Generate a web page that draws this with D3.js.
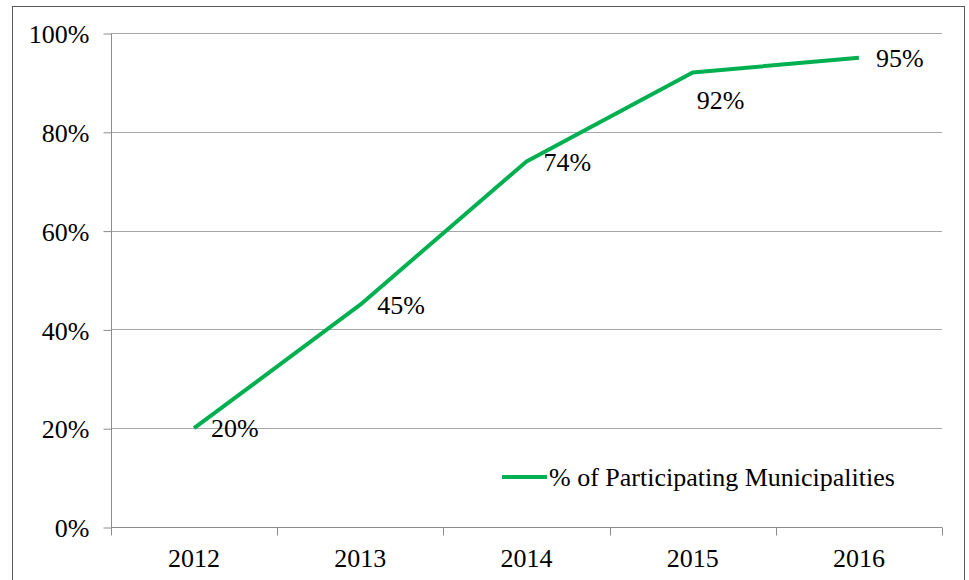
<!DOCTYPE html>
<html><head><meta charset="utf-8">
<script src="https://cdn.jsdelivr.net/npm/d3@7"></script>
</head>
<body style="margin:0;background:#fff">
<svg id="c" width="969" height="580" style="display:block"></svg>
<script>
const years = ["2012","2013","2014","2015","2016"];
const values = [0.20, 0.45, 0.74, 0.92, 0.95];
const labelPlacement = ["right","right","right","below","right"];
const yTicks = [0, 0.2, 0.4, 0.6, 0.8, 1.0];
const seriesName = "% of Participating Municipalities";

const FONT = "'Liberation Serif'";
const fs = 26;
const svg = d3.select("#c");
const m = {left:111, right:942, top:33, bottom:527};

function styleText(sel){
  return sel.style("font-family",FONT).style("font-size",fs+"px").attr("fill","#000");
}

svg.append("rect").attr("x",12.5).attr("y",6.5).attr("width",952).attr("height",600)
  .attr("fill","none").attr("stroke","#595959").attr("stroke-width",1);

const x = d3.scaleBand().domain(years).range([m.left, m.right]).padding(0);
const y = d3.scaleLinear().domain([0,1]).range([m.bottom, m.top]);

// gridlines
svg.append("g").selectAll("line").data(yTicks.filter(d=>d>0)).join("line")
  .attr("x1",m.left).attr("x2",m.right)
  .attr("y1",d=>Math.round(y(d))+0.5).attr("y2",d=>Math.round(y(d))+0.5)
  .attr("stroke","#a6a6a6").attr("stroke-width",1);

// y axis
const yAxis = d3.axisLeft(y).tickValues(yTicks).tickFormat(d3.format(".0%")).tickSize(8).tickPadding(14);
const gy = svg.append("g").attr("transform",`translate(${m.left+0.5},0.5)`).call(yAxis);
gy.attr("font-family",null).attr("font-size",null);
gy.selectAll("path,line").attr("stroke","#8c8c8c");
gy.select(".domain").attr("d",`M0,${m.top}V${m.bottom}`);
styleText(gy.selectAll("text")).attr("dy","0.35em");

// x axis
const xAxis = d3.axisBottom(x).tickSize(0).tickPadding(30);
const gx = svg.append("g").attr("transform",`translate(0,${m.bottom+0.5})`).call(xAxis);
gx.attr("font-family",null).attr("font-size",null);
gx.select(".domain").attr("d",`M${m.left},0H${m.right}`).attr("stroke","#8c8c8c");
styleText(gx.selectAll("text")).attr("dy","0.35em");
const bounds = years.map(d=>x(d)).concat([m.right]);
gx.append("g").selectAll("line").data(bounds).join("line")
  .attr("x1",d=>Math.round(d)+0.5).attr("x2",d=>Math.round(d)+0.5)
  .attr("y1",0).attr("y2",8).attr("stroke","#8c8c8c");

// line
const cx = d=>x(d)+x.bandwidth()/2;
const line = d3.line().x((d,i)=>cx(years[i])).y(d=>y(d));
svg.append("path").datum(values).attr("d",line)
  .attr("fill","none").attr("stroke","#00b050").attr("stroke-width",4).attr("stroke-linejoin","round");

// data labels
styleText(svg.append("g").selectAll("text").data(values).join("text"))
  .attr("x",(d,i)=> labelPlacement[i]==="below" ? cx(years[i])+4 : cx(years[i])+17)
  .attr("y",(d,i)=> labelPlacement[i]==="below" ? y(d)+27 : y(d))
  .attr("dy","0.35em")
  .text(d=>d3.format(".0%")(d));

// legend
const lg = svg.append("g");
lg.append("line").attr("x1",502).attr("x2",547).attr("y1",477).attr("y2",477)
  .attr("stroke","#00b050").attr("stroke-width",4);
styleText(lg.append("text")).attr("x",549).attr("y",477).attr("dy","0.35em").text(seriesName);
</script></body></html>
